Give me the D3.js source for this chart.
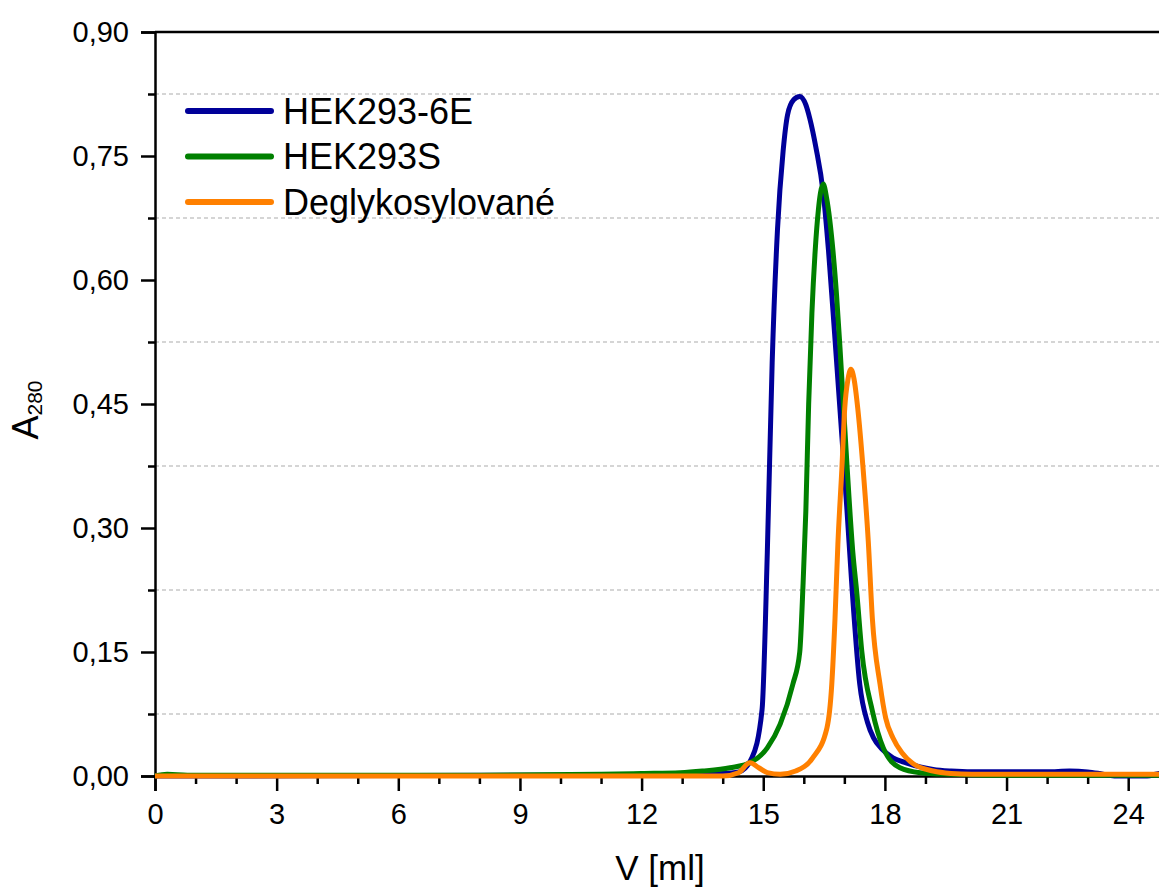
<!DOCTYPE html>
<html>
<head>
<meta charset="utf-8">
<script src="https://cdn.jsdelivr.net/npm/d3@7"></script>
<style>
  body { margin: 0; background: #fff; }
  svg { display: block; font-family: "Liberation Sans", Arial, sans-serif; }
</style>
</head>
<body>
<div id="chart"></div>
<script>
// elution volume [ml] and A280 for each sample
let vol6E = [0, 10, 13, 14, 14.4, 14.72, 14.97, 15.1, 15.22, 15.35, 15.49, 15.6, 15.75, 15.9, 16.05, 16.15, 16.3, 16.48, 16.61, 16.76, 16.94, 17.06, 17.19, 17.38, 17.57, 17.72, 17.92, 18.2, 18.52, 18.87, 19.19, 19.63, 20.14, 22, 22.55, 23, 23.3, 23.66, 24.47, 24.77, 26];
let abs6E = [0, 0.001, 0.002, 0.003, 0.005, 0.022, 0.08, 0.27, 0.5, 0.66, 0.756, 0.8, 0.818, 0.822, 0.812, 0.795, 0.76, 0.705, 0.635, 0.535, 0.41, 0.325, 0.227, 0.111, 0.065, 0.046, 0.033, 0.022, 0.016, 0.011, 0.008, 0.006, 0.005, 0.005, 0.006, 0.005, 0.003, 0, 0, 0.003, 0.003];

let volS = [0, 0.3, 0.8, 8, 11, 12, 12.95, 13.5, 14.18, 14.67, 15.1, 15.42, 15.73, 15.9, 15.98, 16.05, 16.12, 16.2, 16.28, 16.36, 16.41, 16.48, 16.56, 16.72, 16.81, 16.89, 17.06, 17.21, 17.31, 17.43, 17.69, 17.96, 18.37, 18.87, 19.63, 20.5, 26];
let absS = [0, 0.002, 0.001, 0.001, 0.002, 0.003, 0.004, 0.006, 0.01, 0.016, 0.034, 0.063, 0.111, 0.15, 0.23, 0.32, 0.45, 0.56, 0.635, 0.685, 0.705, 0.716, 0.7, 0.635, 0.58, 0.52, 0.38, 0.27, 0.22, 0.151, 0.079, 0.034, 0.01, 0.004, 0.002, 0.001, 0.001];

let volDeg = [0, 14, 14.39, 14.67, 14.89, 15.1, 15.42, 15.8, 16.22, 16.57, 16.69, 16.77, 16.84, 16.94, 17.01, 17.09, 17.16, 17.24, 17.33, 17.46, 17.59, 17.69, 17.88, 18.02, 18.2, 18.42, 18.69, 19.19, 19.63, 20.14, 26];
let absDeg = [0, 0, 0.004, 0.016, 0.01, 0.004, 0.002, 0.006, 0.022, 0.058, 0.111, 0.191, 0.28, 0.373, 0.445, 0.48, 0.492, 0.48, 0.445, 0.373, 0.284, 0.191, 0.111, 0.07, 0.046, 0.028, 0.015, 0.006, 0.003, 0.002, 0.002];

let seriesNames = ['HEK293-6E', 'HEK293S', 'Deglykosylované'];
let xTicks = [0, 3, 6, 9, 12, 15, 18, 21, 24];
let yTicks = [0, 0.15, 0.30, 0.45, 0.60, 0.75, 0.90];

let colors = ['#000099', '#008000', '#ff8000'];
let width = 1159,
	height = 890;

let series = [
	{name: seriesNames[0], v: vol6E, a: abs6E},
	{name: seriesNames[1], v: volS, a: absS},
	{name: seriesNames[2], v: volDeg, a: absDeg}
];

let xScale = d3.scaleLinear()
	.domain([0, 26])
	.range([155, 155 + 26 * 40.55]);

let yScale = d3.scaleLinear()
	.domain([0, 0.9])
	.range([776, 32]);

let comma = d3.formatLocale({decimal: ',', thousands: ' ', grouping: [3], currency: ['', '']}).format('.2f');

let svg = d3.select('#chart').append('svg')
	.attr('width', width)
	.attr('height', height);

// dashed grid at the minor y positions
let minorY = d3.range(0.075, 0.9, 0.15);
svg.append('g').selectAll('line')
	.data(minorY)
	.enter().append('line')
		.attr('x1', xScale(0))
		.attr('x2', width)
		.attr('y1', d => yScale(d))
		.attr('y2', d => yScale(d))
		.attr('stroke', '#c8c8c8')
		.attr('stroke-width', 1.3)
		.attr('stroke-dasharray', '4,3');

// top frame line
svg.append('line')
	.attr('x1', xScale(0)).attr('x2', width)
	.attr('y1', yScale(0.9)).attr('y2', yScale(0.9))
	.attr('stroke', '#000').attr('stroke-width', 2.5);

// x axis
svg.append('g')
	.attr('transform', 'translate(0,' + yScale(0) + ')')
	.call(d3.axisBottom(xScale).tickValues(xTicks).tickSize(15).tickPadding(12).tickFormat(d3.format('d')));
svg.append('g')
	.attr('transform', 'translate(0,' + yScale(0) + ')')
	.call(d3.axisBottom(xScale).tickValues(d3.range(1, 26).filter(d => d % 3 != 0)).tickSize(8).tickFormat(''))
	.select('.domain').remove();

// y axis
svg.append('g')
	.attr('transform', 'translate(' + xScale(0) + ',0)')
	.call(d3.axisLeft(yScale).tickValues(yTicks).tickSize(14).tickPadding(12).tickFormat(comma));
svg.append('g')
	.attr('transform', 'translate(' + xScale(0) + ',0)')
	.call(d3.axisLeft(yScale).tickValues(minorY).tickSize(7).tickFormat(''))
	.select('.domain').remove();

svg.selectAll('.domain').attr('stroke-width', 2.5);
svg.selectAll('.tick line').attr('stroke-width', 2.5);
svg.selectAll('.tick text')
	.attr('font-size', 29)
	.attr('font-family', '"Liberation Sans", Arial, sans-serif')
	.attr('fill', '#000');

// curves
let line = d3.line()
	.x(d => xScale(d[0]))
	.y(d => yScale(d[1]))
	.curve(d3.curveMonotoneX);

svg.append('g').selectAll('path')
	.data(series)
	.enter().append('path')
		.attr('d', d => line(d3.zip(d.v, d.a)))
		.attr('fill', 'none')
		.attr('stroke', (d, i) => colors[i])
		.attr('stroke-width', 5)
		.attr('stroke-linejoin', 'round');

// legend
let legend = svg.append('g').selectAll('g')
	.data(series)
	.enter().append('g')
		.attr('transform', (d, i) => 'translate(0,' + (111 + i * 45.5) + ')');
legend.append('line')
	.attr('x1', 188).attr('x2', 271)
	.attr('stroke', (d, i) => colors[i])
	.attr('stroke-width', 6)
	.attr('stroke-linecap', 'round');
legend.append('text')
	.attr('x', 283)
	.attr('dy', '0.36em')
	.attr('font-size', 36)
	.text(d => d.name);

// axis titles
let yTitle = svg.append('text')
	.attr('transform', 'translate(38,410) rotate(-90)')
	.attr('text-anchor', 'middle')
	.attr('font-size', 36);
yTitle.append('tspan').text('A');
yTitle.append('tspan').attr('font-size', 21).attr('baseline-shift', '-4').text('280');

svg.append('text')
	.attr('x', 660)
	.attr('y', 880)
	.attr('text-anchor', 'middle')
	.attr('font-size', 35)
	.text('V [ml]');
</script>
</body>
</html>
